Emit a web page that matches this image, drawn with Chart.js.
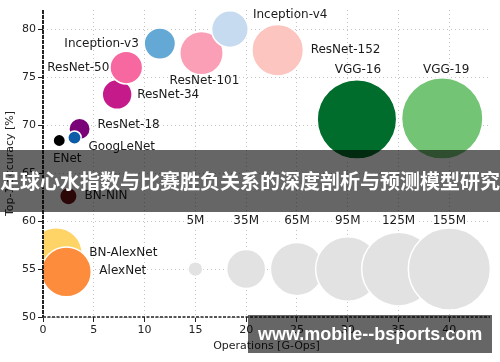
<!DOCTYPE html>
<html>
<head>
<meta charset="utf-8">
<script src="https://cdn.jsdelivr.net/npm/chart.js@4"></script>
<style>
  html, body { margin: 0; padding: 0; background: #fff; }
  #wrap { position: relative; width: 500px; height: 362px; overflow: hidden; }
  #banner {
    position: absolute; left: 0; top: 150px; width: 500px; height: 62px;
    background: rgba(0, 0, 0, 0.6); color: #fff;
    font: bold 20px "Noto Sans CJK SC", sans-serif;
    line-height: 62px; text-align: center; white-space: nowrap;
  }
  #mark {
    position: absolute; left: 248px; top: 315px; width: 244px; height: 38px;
    background: rgba(0, 0, 0, 0.6); color: #fff;
    font: bold 18px "Liberation Sans", sans-serif;
    line-height: 38px; padding-left: 10px; box-sizing: border-box; white-space: nowrap;
  }
</style>
</head>
<body>
<div id="wrap">
  <canvas id="myChart" width="500" height="362"></canvas>
  <div id="banner">足球心水指数与比赛胜负关系的深度剖析与预测模型研究</div>
  <div id="mark">www.mobile--bsports.com</div>
</div>
<script>
// networks: operations [G-Ops], top-1 accuracy [%], parameters [M]
var nets = ["ResNet-18", "GoogLeNet", "ENet", "BN-NIN", "BN-AlexNet", "AlexNet", "ResNet-34", "ResNet-50",
  "Inception-v3", "ResNet-101", "Inception-v4", "ResNet-152", "VGG-16", "VGG-19"];
var ops = [3.6, 3.1, 1.6, 2.5, 1.3, 2.3, 7.3, 8.2, 11.5, 15.6, 18.4, 23.1, 30.9, 39.3];
var acc = [69.6, 68.7, 68.4, 62.6, 56.6, 54.7, 73.2, 76.0, 78.5, 77.5, 80.0, 77.8, 70.6, 70.7];
var params = [10.5, 4.1, 3.5, 7.1, 62, 57, 20.5, 24.5, 22.6, 43.2, 30.8, 61, 145, 152];
var netColors = ["#7a0177", "#0d5ca8", "#000000", "#6b1212", "#fed466", "#fd8d3c", "#c51b8a", "#f768a1",
  "#64a8d6", "#fa9fb5", "#c6dbef", "#fcc5c0", "#006d2c", "#74c476"];

// parameter size legend
var sizeNames = ["5M", "35M", "65M", "95M", "125M", "155M"];
var sizeOps = [15, 20, 25, 30, 35, 40];
var sizeParams = [5, 35, 65, 95, 125, 155];
var sizeAcc = 55;
var sizeLabelAcc = 60;

// label placement relative to each bubble centre: [dx, dy, align]
var labelPos = [[18, -4, "left"], [14, 9, "left"], [8, 18, "center"], [16, 0, "left"], [33, -1, "left"],
  [33, -1, "left"], [20, 0, "left"], [-17, 0, "right"], [-21, 0, "right"], [3, 28, "center"],
  [23, -14, "left"], [33, 0, "left"], [1, -49, "center"], [4, -49, "center"]];

var radius = (p) => 3.3 * Math.sqrt(p);
var font = '12px "DejaVu Sans"';

var netPoints = ops.map((x, i) => ({x: x, y: acc[i], r: radius(params[i])}));
var sizePoints = sizeOps.map((x, i) => ({x: x, y: sizeAcc, r: radius(sizeParams[i])}));
var dots = ops.map((x, i) => ({x: x, y: acc[i]}));

var extras = {
  id: 'extras',
  afterDatasetsDraw(chart) {
    var ctx = chart.ctx, a = chart.chartArea;
    var xs = chart.scales.x, ys = chart.scales.y;
    ctx.save();
    // axis lines
    ctx.strokeStyle = "#222";
    ctx.lineWidth = 2;
    ctx.setLineDash([4, 1]);
    ctx.beginPath(); ctx.moveTo(a.left, a.top); ctx.lineTo(a.left, a.bottom); ctx.stroke();
    ctx.lineWidth = 1.5;
    ctx.setLineDash([3, 1.5]);
    ctx.beginPath(); ctx.moveTo(a.left, a.bottom); ctx.lineTo(a.right, a.bottom); ctx.stroke();
    ctx.setLineDash([]);
    // network labels
    ctx.font = font;
    ctx.fillStyle = "#1a1a1a";
    ctx.textBaseline = "middle";
    var meta = chart.getDatasetMeta(1);
    nets.forEach((n, i) => {
      var p = meta.data[i];
      ctx.textAlign = labelPos[i][2];
      ctx.fillText(n, p.x + labelPos[i][0], p.y + labelPos[i][1]);
    });
    // size legend labels
    ctx.textAlign = "center";
    sizeNames.forEach((s, i) => {
      var px = xs.getPixelForValue(sizeOps[i]), py = ys.getPixelForValue(sizeLabelAcc);
      var w = ctx.measureText(s).width;
      ctx.fillStyle = "#fff";
      ctx.fillRect(px - w / 2 - 1, py - 6, w + 2, 12);
      ctx.fillStyle = "#1a1a1a";
      ctx.fillText(s, px, py);
    });
    ctx.restore();
  }
};

var ctx = document.getElementById('myChart');
var myChart = new Chart(ctx, {
  type: 'bubble',
  data: {
    datasets: [{
      label: "size",
      data: sizePoints,
      backgroundColor: "#e2e2e2",
      borderColor: "#fff",
      borderWidth: 1.5,
      clip: 0
    }, {
      label: "nets",
      data: netPoints,
      backgroundColor: netColors,
      borderColor: "#fff",
      borderWidth: 1.5,
      clip: 0
    }, {
      type: 'scatter',
      label: "centres",
      data: dots,
      pointRadius: 1.8,
      pointBackgroundColor: "#e6e6e6",
      pointBorderWidth: 0,
      clip: 0
    }]
  },
  options: {
    responsive: false,
    animation: false,
    events: [],
    layout: { autoPadding: false, padding: { top: 10, right: 10, left: 0, bottom: 0 } },
    plugins: { legend: { display: false }, tooltip: { enabled: false } },
    scales: {
      x: {
        type: 'linear', min: 0, max: 44,
        afterFit: (s) => { s.height = 45; },
        ticks: { stepSize: 5, includeBounds: false, font: { family: "DejaVu Sans", size: 11 }, color: "#222", padding: 2 },
        grid: { color: "#c4c4c4", tickColor: "#222", tickLength: 5, tickBorderDash: [] },
        border: { display: false, dash: [1, 3] },
        title: { display: true, text: "Operations [G-Ops]", font: { family: "DejaVu Sans", size: 11 }, color: "#222", padding: { top: 2, bottom: 9 } }
      },
      y: {
        type: 'linear', min: 50, max: 82,
        afterFit: (s) => { s.width = 43; },
        ticks: { stepSize: 5, includeBounds: false, font: { family: "DejaVu Sans", size: 11 }, color: "#222", padding: 2 },
        grid: { color: "#c4c4c4", tickColor: "#222", tickLength: 5, tickBorderDash: [] },
        border: { display: false, dash: [1, 3] },
        title: { display: true, text: "Top-1 accuracy [%]", font: { family: "DejaVu Sans", size: 11 }, color: "#222", padding: { top: 4, bottom: 0 } }
      }
    }
  },
  plugins: [extras]
});
</script>
</body>
</html>
